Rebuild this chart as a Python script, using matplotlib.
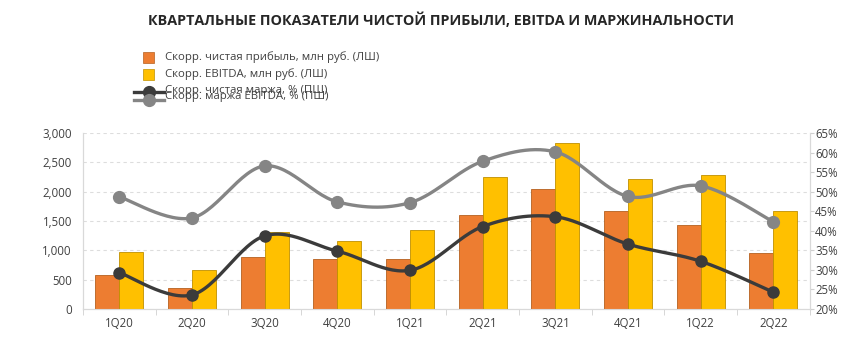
import numpy as np
import matplotlib.pyplot as plt
from matplotlib.ticker import FuncFormatter, FixedLocator

plt.rcParams['font.family'] = ['Open Sans', 'DejaVu Sans']

quarters = ['1Q20', '2Q20', '3Q20', '4Q20', '1Q21', '2Q21', '3Q21', '4Q21', '1Q22', '2Q22']
net_profit = [585, 360, 890, 855, 850, 1600, 2045, 1670, 1430, 960]
ebitda = [965, 670, 1305, 1165, 1340, 2255, 2825, 2210, 2290, 1675]
net_margin = [29.3, 23.6, 38.7, 34.8, 29.9, 41.1, 43.6, 36.6, 32.2, 24.3]
ebitda_margin = [48.7, 43.3, 56.6, 47.4, 47.2, 57.8, 60.2, 48.8, 51.5, 42.3]

labels = ['Скорр. чистая прибыль, млн руб. (ЛШ)',
          'Скорр. EBITDA, млн руб. (ЛШ)',
          'Скорр. чистая маржа, % (ПШ)',
          'Скорр. маржа EBITDA, % (ПШ)']

c_orange = '#ED7D31'
c_yellow = '#FFC000'
c_dark = '#3B3B3B'
c_grey = '#858585'


# smooth line through points like the spreadsheet "smoothed line" option
def smooth(xs, ys, n=30):
    xs = np.asarray(xs, float)
    ys = np.asarray(ys, float)
    px = np.concatenate([[xs[0]], xs, [xs[-1]]])
    py = np.concatenate([[ys[0]], ys, [ys[-1]]])
    outx, outy = [], []
    t = np.linspace(0, 1, n)
    for i in range(1, len(px) - 2):
        p0 = np.array([px[i], py[i]])
        p3 = np.array([px[i + 1], py[i + 1]])
        p1 = p0 + (np.array([px[i + 1], py[i + 1]]) - np.array([px[i - 1], py[i - 1]])) / 6
        p2 = p3 - (np.array([px[i + 2], py[i + 2]]) - np.array([px[i], py[i]])) / 6
        b = (((1 - t) ** 3)[:, None] * p0 + (3 * (1 - t) ** 2 * t)[:, None] * p1
             + (3 * (1 - t) * t ** 2)[:, None] * p2 + (t ** 3)[:, None] * p3)
        outx.extend(b[:, 0])
        outy.extend(b[:, 1])
    return outx, outy


fig = plt.figure(figsize=(8.66, 3.53), dpi=100)
ax = fig.add_axes([0.0958, 0.1246, 0.935 - 0.0958, 0.623 - 0.1246])
ax2 = ax.twinx()

x = np.arange(len(quarters))
w = 0.33
ax.bar(x - w / 2, net_profit, w, color=c_orange, edgecolor='#B5601F', linewidth=0.6, zorder=3)
ax.bar(x + w / 2, ebitda, w, color=c_yellow, edgecolor='#BF9000', linewidth=0.6, zorder=3)

ax.set_xlim(-0.5, len(quarters) - 0.5)
ax.set_ylim(0, 3000)
ax.set_yticks(np.arange(0, 3001, 500))
ax.yaxis.set_major_formatter(FuncFormatter(lambda v, p: f'{int(v):,}'))
ax.grid(axis='y', color='#DDDDDD', linestyle=(0, (3, 3)), linewidth=0.8, zorder=0)
ax.set_xticks(x)
ax.set_xticklabels(quarters)
ax.xaxis.set_minor_locator(FixedLocator(np.arange(-0.5, len(quarters), 1)))
ax.tick_params(axis='x', which='major', length=0, labelsize=8.3, colors='#404040', pad=6)
ax.tick_params(axis='x', which='minor', length=4, color='#D0D0D0', direction='out')
ax.tick_params(axis='y', length=0, labelsize=8.3, colors='#404040', pad=8)

sx, sy = smooth(x, ebitda_margin)
ax2.plot(sx, sy, color=c_grey, linewidth=2.4, zorder=4)
ax2.plot(x, ebitda_margin, 'o', color=c_grey, markersize=8.5, zorder=5)
sx, sy = smooth(x, net_margin)
ax2.plot(sx, sy, color=c_dark, linewidth=2.4, zorder=4)
ax2.plot(x, net_margin, 'o', color=c_dark, markersize=8, zorder=5)
ax2.set_ylim(20, 65)
ax2.set_yticks(np.arange(20, 66, 5))
ax2.yaxis.set_major_formatter(FuncFormatter(lambda v, p: f'{int(v)}%'))
ax2.tick_params(axis='y', length=3, color='#D0D0D0', labelsize=8.3, colors='#404040', pad=1)

for a in (ax, ax2):
    a.spines['top'].set_visible(False)
    a.spines['left'].set_color('#D9D9D9')
    a.spines['right'].set_color('#D9D9D9')
    a.spines['bottom'].set_color('#D9D9D9')
ax.set_zorder(ax2.get_zorder() - 1)
ax.patch.set_visible(True)
ax2.patch.set_visible(False)

fig.text(0.509, 0.943, 'КВАРТАЛЬНЫЕ ПОКАЗАТЕЛИ ЧИСТОЙ ПРИБЫЛИ, EBITDA И МАРЖИНАЛЬНОСТИ',
         ha='center', va='center', fontsize=10.4, fontweight='bold', color='#262626')

# legend drawn by hand, the two line entries overlap as in the original
W, H = 866, 353
def fx(px): return px / W
def fy(py): return 1 - py / H

fig.patches.append(plt.Rectangle((fx(143), fy(63)), 11 / W, 11 / H, transform=fig.transFigure,
                                 color=c_orange, ec='#B5601F', lw=0.5))
fig.patches.append(plt.Rectangle((fx(143), fy(80)), 11 / W, 11 / H, transform=fig.transFigure,
                                 color=c_yellow, ec='#BF9000', lw=0.5))
for px, py, col in [(149, 92, c_dark), (149, 100, c_grey)]:
    fig.lines.append(plt.Line2D([fx(134), fx(164)], [fy(py), fy(py)], transform=fig.transFigure,
                                color=col, lw=2.4))
    fig.lines.append(plt.Line2D([fx(px)], [fy(py)], transform=fig.transFigure, marker='o',
                                color=col, markersize=8.5))
for py, t in zip([57, 74, 90, 96], labels):
    fig.text(fx(165), fy(py), t, ha='left', va='center', fontsize=8.2, color='#404040')

fig.savefig('out.png', dpi=100)
